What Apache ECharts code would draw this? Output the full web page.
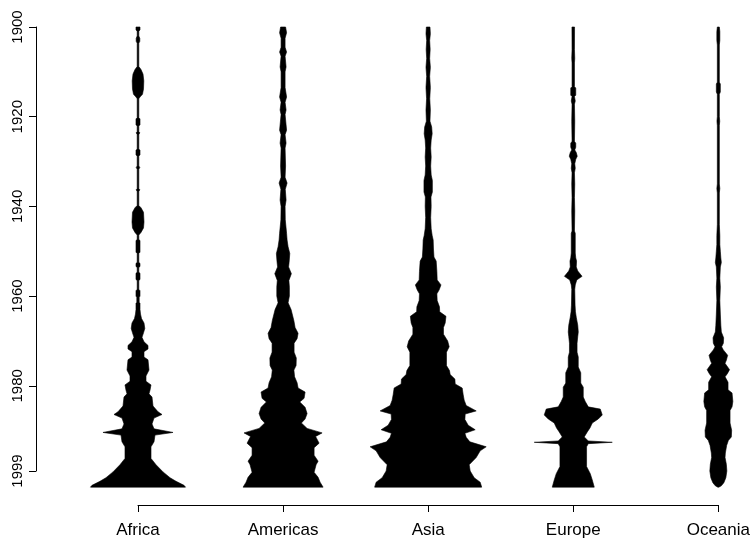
<!DOCTYPE html>
<html>
<head>
<meta charset="utf-8">
<script src="https://cdn.jsdelivr.net/npm/echarts@6/dist/echarts.min.js"></script>
<style>
html,body{margin:0;padding:0;background:#fff;}
#chart{width:753px;height:542px;}
</style>
</head>
<body>
<div id="chart"></div>
<script>
// Categories and axis ticks
const continents = ['Africa', 'Americas', 'Asia', 'Europe', 'Oceania'];
const yearTicks = [1900, 1920, 1940, 1960, 1980, 1999];

// Bean profiles: year and relative density (arbitrary units)
const africaYears = [1900.0,1900.6,1901.0,1902.0,1902.5,1903.2,1903.6,1908.8,1909.5,1910.5,1912.0,1913.8,1915.0,1915.6,1916.0,1920.2,1920.5,1921.8,1922.1,1923.3,1923.6,1924.0,1927.2,1927.5,1928.5,1928.8,1931.0,1931.3,1931.7,1936.0,1936.3,1936.7,1939.8,1940.3,1941.3,1943.5,1944.8,1945.8,1946.4,1947.4,1947.6,1950.2,1950.5,1952.5,1952.7,1953.4,1953.6,1954.7,1954.9,1956.3,1956.5,1958.5,1958.8,1960.0,1960.3,1961.4,1961.6,1963.0,1964.0,1965.0,1966.0,1967.2,1968.2,1969.2,1970.2,1971.0,1971.8,1972.4,1973.6,1974.2,1976.5,1977.8,1979.0,1979.8,1981.0,1981.8,1982.5,1984.5,1985.8,1986.4,1987.2,1988.5,1989.6,1990.4,1991.0,1992.5,1993.6,1996.2,1997.6,1999.2,2000.5,2001.3,2002.2,2002.6];
const africaDensity = [2.0,2.0,0.8,0.8,1.8,1.8,0.8,0.8,3.0,5.0,5.8,5.5,4.5,2.0,0.8,0.8,2.0,2.0,0.8,0.8,1.8,0.8,0.8,2.0,2.0,0.8,0.8,1.8,0.8,0.8,1.8,0.8,0.8,3.0,5.5,6.0,5.5,3.0,0.8,0.8,2.0,2.0,0.8,0.8,2.0,2.0,0.8,0.8,2.0,2.0,0.8,0.8,2.0,2.0,1.2,1.2,2.0,2.0,2.5,3.5,6.0,6.8,5.5,4.0,6.0,10.0,10.0,6.0,6.0,10.0,11.0,8.0,8.0,13.0,12.0,11.0,14.0,15.0,20.0,24.0,16.0,14.0,16.0,35.0,17.0,16.0,13.0,13.0,18.0,25.0,32.0,38.0,46.0,47.5];

const americasYears = [1900.0,1901.3,1902.5,1904.5,1905.6,1906.5,1908.9,1910.0,1913.5,1915.6,1916.8,1918.5,1919.5,1923.0,1924.0,1925.9,1927.0,1931.0,1933.5,1934.8,1936.2,1938.6,1940.0,1943.0,1946.0,1947.5,1949.0,1950.5,1952.5,1953.5,1955.0,1956.5,1958.0,1960.0,1961.5,1963.0,1965.5,1967.0,1968.3,1969.5,1970.5,1972.5,1973.8,1975.5,1976.5,1978.0,1979.3,1980.5,1981.4,1982.8,1983.6,1984.8,1986.2,1987.4,1988.3,1989.5,1990.5,1991.3,1992.8,1993.8,1995.5,1996.8,1997.6,1999.3,2000.4,2001.5,2002.6];
const americasDensity = [2.5,3.5,2.0,2.0,3.5,2.0,3.0,2.0,2.0,3.5,2.0,3.0,2.0,3.5,2.0,3.0,2.0,2.5,2.0,4.0,2.2,3.0,2.0,2.2,3.5,4.0,5.0,6.7,6.0,5.5,8.3,5.8,6.3,6.3,5.0,8.0,10.8,12.0,15.0,14.0,11.0,11.0,13.2,13.0,10.8,11.5,14.0,15.0,22.0,21.0,16.7,22.0,24.0,22.0,18.3,24.0,39.0,32.5,36.0,31.0,31.0,35.0,33.0,31.0,35.0,37.0,40.0];

const asiaYears = [1900.0,1901.5,1903.0,1905.0,1907.0,1909.0,1911.0,1913.5,1916.0,1918.5,1921.0,1922.3,1923.8,1925.2,1927.0,1929.0,1931.0,1933.0,1934.2,1936.8,1937.9,1940.0,1942.5,1945.0,1946.5,1947.5,1949.5,1951.3,1952.2,1954.5,1956.4,1957.5,1958.6,1959.5,1961.0,1962.4,1963.5,1964.5,1966.0,1967.0,1968.5,1970.0,1971.3,1972.5,1975.5,1976.6,1977.5,1978.5,1979.6,1980.5,1982.0,1983.2,1984.4,1985.6,1986.3,1987.5,1988.8,1989.8,1990.6,1991.5,1992.5,1993.6,1994.5,1996.0,1997.6,1999.0,2000.5,2001.5,2002.6];
const asiaDensity = [1.8,2.2,1.5,2.0,1.5,2.2,1.5,2.2,1.6,2.2,1.8,3.5,4.0,3.0,2.5,3.0,2.5,3.0,4.2,4.2,2.8,3.0,2.5,3.0,4.0,5.0,5.3,5.8,8.0,8.7,9.0,12.8,11.0,8.7,9.0,11.3,11.5,17.8,17.0,15.3,15.3,19.5,21.0,18.3,18.3,21.3,22.0,26.7,27.0,34.0,35.0,36.0,38.0,48.0,37.0,36.7,40.0,47.0,36.7,38.0,41.7,58.0,52.0,48.0,41.0,42.0,46.0,52.0,53.5];

const europeYears = [1900.0,1905.0,1907.0,1908.0,1913.3,1913.6,1915.2,1915.5,1916.5,1917.2,1921.0,1925.5,1925.9,1926.8,1927.4,1928.0,1928.8,1929.5,1930.5,1931.5,1932.5,1935.0,1938.0,1941.0,1945.5,1946.0,1950.4,1951.5,1952.2,1953.5,1954.4,1955.6,1956.4,1957.5,1958.5,1962.0,1963.5,1964.7,1966.5,1968.0,1969.0,1970.5,1972.5,1973.6,1975.8,1977.1,1979.4,1980.3,1982.5,1983.5,1984.7,1985.2,1986.5,1987.4,1988.3,1989.4,1990.3,1991.4,1992.3,1992.6,1992.9,1993.6,1998.0,1999.6,2001.0,2002.6];
const europeDensity = [1.3,1.2,1.5,1.2,1.2,2.5,2.5,1.2,2.0,1.2,1.5,1.2,2.5,2.5,1.5,3.0,4.0,2.5,1.5,2.0,1.2,1.5,1.2,1.5,1.2,2.0,2.0,2.5,3.3,3.0,4.5,8.8,3.5,2.0,1.5,1.8,2.2,3.0,4.5,5.0,4.5,3.8,3.8,5.0,5.0,7.5,7.5,10.0,10.0,12.0,15.0,27.0,29.0,25.0,19.0,16.7,14.0,11.0,15.0,39.0,15.0,13.3,13.3,17.0,19.0,21.0];

const oceaniaYears = [1900.0,1901.0,1903.0,1904.0,1912.3,1912.7,1914.5,1915.0,1920.0,1921.0,1922.0,1935.0,1936.0,1937.0,1944.0,1946.5,1948.5,1950.0,1951.5,1952.5,1953.5,1956.0,1958.0,1961.0,1964.0,1966.5,1968.0,1969.3,1970.5,1971.3,1972.0,1973.2,1974.3,1975.0,1976.4,1977.3,1978.0,1979.2,1980.9,1981.6,1983.5,1984.7,1985.5,1988.3,1989.9,1991.4,1992.2,1993.3,1995.0,1996.0,1997.5,1999.0,2000.5,2001.6,2002.3,2002.6];
const oceaniaDensity = [1.0,1.5,1.5,1.0,1.0,2.0,2.0,1.0,1.0,1.4,1.0,1.0,1.5,1.0,1.0,1.5,1.5,2.0,2.5,3.0,2.0,1.5,2.0,1.5,2.0,2.5,3.0,5.3,5.0,3.3,5.0,9.3,8.0,6.7,11.2,9.0,6.7,9.7,9.7,13.7,14.5,13.7,11.7,11.7,13.3,13.0,10.0,8.3,7.0,6.7,8.0,8.5,7.5,5.5,3.0,0.5];

const beanYears = [africaYears, americasYears, asiaYears, europeYears, oceaniaYears];
const beanDensity = [africaDensity, americasDensity, asiaDensity, europeDensity, oceaniaDensity];
const maxDensity = Math.max.apply(null, beanDensity.map(d => Math.max.apply(null, d)));
const MAX_HALF_WIDTH = 0.4; // fraction of the category gap (beanplot maxwidth 0.8)

function renderBean(params, api) {
  const i = params.dataIndex;
  const yrs = beanYears[i], dens = beanDensity[i];
  const gap = api.coord([1, 1950])[0] - api.coord([0, 1950])[0];
  const left = [], right = [];
  for (let k = 0; k < yrs.length; k++) {
    const p = api.coord([i, yrs[k]]);
    const hw = dens[k] / maxDensity * MAX_HALF_WIDTH * gap;
    left.push([p[0] - hw, p[1]]);
    right.push([p[0] + hw, p[1]]);
  }
  const pts = left.concat(right.reverse());
  return {
    type: 'polygon',
    shape: { points: pts },
    style: { fill: '#000', stroke: '#000', lineWidth: 0.6 }
  };
}

const chart = echarts.init(document.getElementById('chart'), null, { renderer: 'canvas' });
chart.setOption({
  animation: false,
  backgroundColor: '#fff',
  grid: { left: 138, right: 33, top: 27, bottom: 71, containLabel: false },
  xAxis: {
    type: 'category',
    data: continents,
    boundaryGap: false,
    offset: 34,
    axisLine: { show: true, lineStyle: { color: '#000', width: 1 } },
    axisTick: { show: true, length: 7, lineStyle: { color: '#000', width: 1 } },
    axisLabel: { color: '#000', fontSize: 17, fontFamily: 'Liberation Sans, Arial, sans-serif', margin: 17 },
    splitLine: { show: false }
  },
  yAxis: {
    type: 'value',
    inverse: true,
    min: 1900,
    max: 1999,
    offset: 102,
    axisLine: { show: true, lineStyle: { color: '#000', width: 1 } },
    axisTick: { show: true, length: 7, customValues: yearTicks, lineStyle: { color: '#000', width: 1 } },
    axisLabel: { color: '#000', fontSize: 15, rotate: 90, customValues: yearTicks, margin: 11,
                 formatter: v => String(v),
                 fontFamily: 'Liberation Sans Narrow, Liberation Sans, Arial, sans-serif' },
    splitLine: { show: false }
  },
  series: [{
    type: 'custom',
    coordinateSystem: 'cartesian2d',
    clip: false,
    renderItem: renderBean,
    encode: { x: 0, y: 1 },
    data: continents.map((c, i) => [i, yearTicks[0]])
  }]
});
</script>
</body>
</html>
